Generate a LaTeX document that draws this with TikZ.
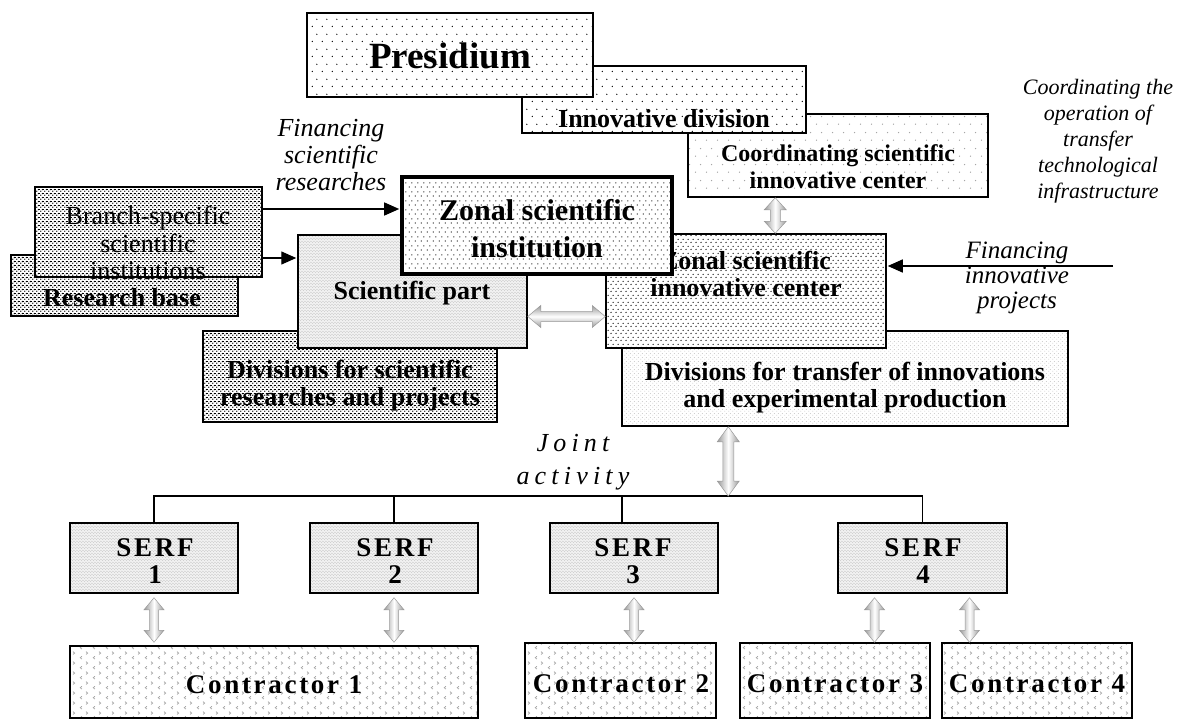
\documentclass[tikz,border=0pt]{standalone}
\usepackage{fontspec}
\setmainfont{Liberation Serif}
\newfontfamily\trackedfont[LetterSpace=10]{Liberation Serif}
\newfontfamily\wideitfont[LetterSpace=20]{Liberation Serif}
\usetikzlibrary{patterns.meta,calc,arrows.meta,fit}

% ---------- fill textures ----------
\tikzdeclarepattern{name=sparsedots, type=colored,
  bounding box={(0pt,0pt) and (10pt,15pt)}, tile size={(10pt,15pt)},
  code={\fill[black] (2.5pt,3.75pt) circle[radius=0.75pt];
        \fill[black] (7.5pt,11.25pt) circle[radius=0.75pt];}}
\tikzdeclarepattern{name=mediumdots, type=colored,
  bounding box={(0pt,0pt) and (6pt,9pt)}, tile size={(6pt,9pt)},
  code={\fill[black] (1.5pt,2.25pt) circle[radius=0.7pt];
        \fill[black] (4.5pt,6.75pt) circle[radius=0.7pt];}}
\tikzdeclarepattern{name=lightdots, type=colored,
  bounding box={(0pt,0pt) and (11pt,16pt)}, tile size={(11pt,16pt)},
  code={\fill[gray!70] (2.75pt,4pt) circle[radius=0.75pt];
        \fill[gray!70] (8.25pt,12pt) circle[radius=0.75pt];}}
\tikzdeclarepattern{name=closedots, type=colored,
  bounding box={(0pt,0pt) and (5pt,7pt)}, tile size={(5pt,7pt)},
  code={\fill[black] (1.25pt,1.75pt) circle[radius=0.8pt];
        \fill[black] (3.75pt,5.25pt) circle[radius=0.8pt];}}
\tikzdeclarepattern{name=densedots, type=colored,
  bounding box={(0pt,0pt) and (4pt,4pt)}, tile size={(4pt,4pt)},
  code={\fill[black] (1pt,1pt) circle[radius=0.9pt];
        \fill[black] (3pt,3pt) circle[radius=0.9pt];}}
\tikzdeclarepattern{name=finescreen, type=colored,
  bounding box={(0pt,0pt) and (3pt,3pt)}, tile size={(3pt,3pt)},
  code={\fill[gray!60] (0.75pt,0.75pt) circle[radius=0.45pt];
        \fill[gray!60] (2.25pt,2.25pt) circle[radius=0.45pt];}}
\tikzdeclarepattern{name=palescreen, type=colored,
  bounding box={(0pt,0pt) and (4pt,4pt)}, tile size={(4pt,4pt)},
  code={\fill[gray!45] (1pt,1pt) circle[radius=0.6pt];
        \fill[gray!45] (3pt,3pt) circle[radius=0.6pt];}}
\tikzdeclarepattern{name=chevrons, type=colored,
  bounding box={(0pt,0pt) and (13pt,10pt)}, tile size={(13pt,10pt)},
  code={\draw[gray!75, line width=0.7pt] (4.2pt,1pt) -- (2.4pt,2.5pt) -- (4.2pt,4pt);
        \draw[gray!75, line width=0.7pt] (8.6pt,6pt) -- (10.4pt,7.5pt) -- (8.6pt,9pt);}}

% ---------- shaded double arrows ----------
\tikzset{
  garrowv/.style={draw=gray!80, line width=0.5pt, left color=gray!80, right color=gray!80, middle color=white},
  garrowh/.style={draw=gray!80, line width=0.5pt, top color=gray!80, bottom color=gray!80, middle color=white}}
% vertical: #1 top point, #2 bottom point, #3 head half width, #4 shaft half width, #5 head length
\newcommand\vgarrow[5]{%
  \path[garrowv] let \p1=#1, \p2=#2 in
    (\x1,\y1) -- (\x1+#3,\y1-#5) -- (\x1+#4,\y1-#5) -- (\x1+#4,\y2+#5) -- (\x1+#3,\y2+#5)
    -- (\x1,\y2) -- (\x1-#3,\y2+#5) -- (\x1-#4,\y2+#5) -- (\x1-#4,\y1-#5) -- (\x1-#3,\y1-#5) -- cycle;}
% horizontal: #1 left point, #2 right point
\newcommand\hgarrow[5]{%
  \path[garrowh] let \p1=#1, \p2=#2 in
    (\x1,\y1) -- (\x1+#5,\y1+#3) -- (\x1+#5,\y1+#4) -- (\x2-#5,\y1+#4) -- (\x2-#5,\y1+#3)
    -- (\x2,\y1) -- (\x2-#5,\y1-#3) -- (\x2-#5,\y1-#4) -- (\x1+#5,\y1-#4) -- (\x1+#5,\y1-#3) -- cycle;}

\begin{document}
\begin{tikzpicture}[x=1pt,y=-1pt,
  box/.style={draw, line width=1.5pt, inner sep=0pt},
  bgwhite/.style={preaction={fill=white}},
  bggray/.style={preaction={fill=gray!12}},
  lbl/.style={align=center, inner sep=0pt},
  bf26/.style={font=\bfseries\fontsize{26}{27}\selectfont},
  it25/.style={font=\itshape\fontsize{25}{25}\selectfont},
  serftext/.style={font=\trackedfont\bfseries\fontsize{27}{27}\selectfont},
  blk/.style={line width=1.4pt, -{Triangle[length=15pt,width=13pt]}, shorten >=1pt},
  tree/.style={line width=1.3pt}]
\useasboundingbox (0,0) rectangle (1184,720);

% ---------- top group ----------
\node[box, bgwhite, pattern=lightdots, fit={(688,114) (988,197)}] (csic) {};
\node[lbl, font=\bfseries\fontsize{24}{27}\selectfont] (csic-t) at (838,167) {Coordinating scientific\\innovative center};
\node[box, bgwhite, pattern=sparsedots, fit={(522,66) (806,133)}] (innov) {};
\node[lbl, bf26] (innov-t) at (664,119) {Innovative division};
\node[box, bgwhite, pattern=sparsedots, line width=2.4pt, fit={(307,13) (593,97)}] (pres) {};
\node[lbl, font=\bfseries\fontsize{37}{40}\selectfont] (pres-t) at (450,56) {Presidium};

% ---------- left group ----------
\node[box, bgwhite, pattern=densedots, fit={(11,255) (238,316)}] (resb) {};
\node[lbl, bf26] (resb-t) at (122,298) {Research base};
\node[box, bgwhite, pattern=densedots, fit={(35,187) (262,277)}] (branch) {};
\node[lbl, font=\fontsize{26}{27.5}\selectfont] (branch-t) at (148,243) {Branch-specific\\scientific\\institutions};

% ---------- scientific part ----------
\node[box, bgwhite, pattern=densedots, fit={(203,331) (497,422)}] (divsci) {};
\node[lbl, bf26] (divsci-t) at (350,386) {Divisions for scientific\\researches and projects};
\node[box, bggray, pattern=finescreen, fit={(298,235) (527,348)}] (sp) {};
\node[lbl, bf26] (sp-t) at (412,293) {Scientific part};

% ---------- innovative part ----------
\node[box, bgwhite, pattern=palescreen, fit={(622,331) (1068,426)}] (tr) {};
\node[lbl, bf26] (tr-t) at (845,388) {Divisions for transfer of innovations\\and experimental production};
\node[box, bgwhite, pattern=closedots, fit={(606,234) (886,348)}] (zsic) {};
\node[lbl, bf26] (zsic-t) at (746,274) {Zonal scientific\\innovative center};

% ---------- zonal institution ----------
\node[box, bgwhite, pattern=mediumdots, line width=3.6pt, fit={(402,177) (672,274)}] (zsi) {};
\node[lbl, font=\bfseries\fontsize{30}{37}\selectfont] (zsi-t) at (537,229) {Zonal scientific\\institution};

% ---------- side captions ----------
\node[lbl, font=\itshape\fontsize{26}{27}\selectfont] (fin-sci) at (331,155) {Financing\\scientific\\researches};
\node[lbl, font=\itshape\fontsize{22}{26}\selectfont] (coord-op) at (1098,141) {Coordinating the\\operation of\\transfer\\technological\\infrastructure};
\node[lbl, it25] (fin-inn) at (1017,278) {Financing\\innovative\\projects};
\node[lbl, font=\wideitfont\itshape\fontsize{26}{33}\selectfont] (joint) at (573,462) {Joint\\activity};

% ---------- black connectors ----------
\coordinate (b1) at ([yshift=23pt]branch.east);
\draw[blk] (b1) -- (b1 -| zsi.west);
\coordinate (b2) at ([yshift=-26pt]branch.east);
\draw[blk] (b2) -- (b2 -| sp.west);
\coordinate (finR) at (1113,266);
\draw[blk] (finR) -- (finR -| zsic.east);

% ---------- SERF row ----------
\node[box, bggray, pattern=finescreen, fit={(70,523) (238,593)}] (serf1) {};
\node[box, bggray, pattern=finescreen, fit={(310,523) (478,593)}] (serf2) {};
\node[box, bggray, pattern=finescreen, fit={(550,523) (718,593)}] (serf3) {};
\node[box, bggray, pattern=finescreen, fit={(838,523) (1007,593)}] (serf4) {};
\node[lbl, serftext] (serf1-t) at (155,561) {SERF\\1};
\node[lbl, serftext] (serf2-t) at (395,561) {SERF\\2};
\node[lbl, serftext] (serf3-t) at (633,561) {SERF\\3};
\node[lbl, serftext] (serf4-t) at (923,561) {SERF\\4};

\coordinate (jy) at (0,496);
\draw[tree] (serf1.north) -- (serf1.north |- jy) -- (serf4.north |- jy) -- (serf4.north);
\draw[tree] (serf2.north) -- (serf2.north |- jy);
\coordinate (s3top) at ([xshift=-12pt]serf3.north);
\draw[tree] (s3top) -- (s3top |- jy);

% ---------- contractors ----------
\node[box, bgwhite, pattern=chevrons, fit={(70,646) (478,718)}] (c1) {};
\node[box, bgwhite, pattern=chevrons, fit={(525,643) (716,718)}] (c2) {};
\node[box, bgwhite, pattern=chevrons, fit={(740,643) (930,718)}] (c3) {};
\node[box, bgwhite, pattern=chevrons, fit={(942,643) (1132,718)}] (c4) {};
\node[lbl, serftext] (c1-t) at (274,685) {Contractor 1};
\node[lbl, serftext] (c2-t) at (621,684) {Contractor 2};
\node[lbl, serftext] (c3-t) at (835,684) {Contractor 3};
\node[lbl, serftext] (c4-t) at (1037,684) {Contractor 4};

% ---------- grey double arrows ----------
\vgarrow{([xshift=88pt]csic.south west)}{(zsic.north)}{11pt}{5pt}{12pt}
\hgarrow{([yshift=-25pt]sp.east)}{(zsic.west)}{11pt}{5pt}{13pt}
\vgarrow{([xshift=107pt]tr.south west)}{(jy)}{11pt}{5.5pt}{15pt}
\vgarrow{([yshift=-4pt]serf1.south)}{([yshift=3pt]c1.north)}{10pt}{4.5pt}{12pt}
\vgarrow{([yshift=-4pt]serf2.south)}{([yshift=3pt]c1.north)}{10pt}{4.5pt}{12pt}
\vgarrow{([yshift=-4pt]serf3.south)}{(c2.north)}{10pt}{4.5pt}{12pt}
\vgarrow{([xshift=-48pt,yshift=-4pt]serf4.south)}{(c3.north)}{10pt}{4.5pt}{12pt}
\vgarrow{([xshift=47pt,yshift=-4pt]serf4.south)}{(c4.north)}{10pt}{4.5pt}{12pt}
\end{tikzpicture}
\end{document}
